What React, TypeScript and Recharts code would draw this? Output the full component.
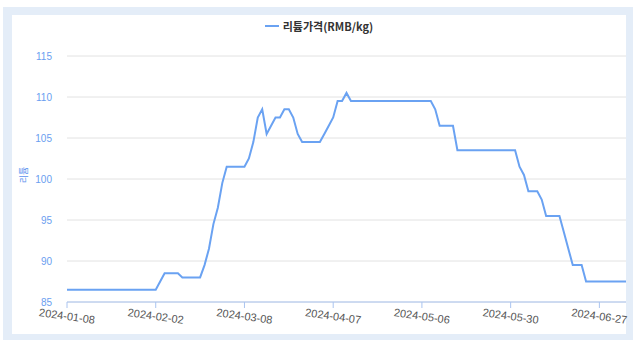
import { LineChart, Line, XAxis, YAxis, CartesianGrid, Legend } from 'recharts';

const SERIES_NAME = '리튬가격(RMB/kg)';
const Y_TITLE = '리튬';
const LINE_COLOR = '#6aa2f2';

// one value per trading day
const prices = [
  86.5, 86.5, 86.5, 86.5, 86.5, 86.5, 86.5, 86.5, 86.5, 86.5,
  86.5, 86.5, 86.5, 86.5, 86.5, 86.5, 86.5, 86.5, 86.5, 86.5,
  86.5, 87.5, 88.5, 88.5, 88.5, 88.5, 88, 88, 88, 88,
  88, 89.5, 91.5, 94.5, 96.5, 99.5, 101.5, 101.5, 101.5, 101.5,
  101.5, 102.5, 104.5, 107.5, 108.5, 105.5, 106.5, 107.5, 107.5, 108.5,
  108.5, 107.5, 105.5, 104.5, 104.5, 104.5, 104.5, 104.5, 105.5, 106.5,
  107.5, 109.5, 109.5, 110.5, 109.5, 109.5, 109.5, 109.5, 109.5, 109.5,
  109.5, 109.5, 109.5, 109.5, 109.5, 109.5, 109.5, 109.5, 109.5, 109.5,
  109.5, 109.5, 109.5, 108.5, 106.5, 106.5, 106.5, 106.5, 103.5, 103.5,
  103.5, 103.5, 103.5, 103.5, 103.5, 103.5, 103.5, 103.5, 103.5, 103.5,
  103.5, 103.5, 101.5, 100.5, 98.5, 98.5, 98.5, 97.5, 95.5, 95.5,
  95.5, 95.5, 93.5, 91.5, 89.5, 89.5, 89.5, 87.5, 87.5, 87.5,
  87.5, 87.5, 87.5, 87.5, 87.5, 87.5, 87.5,
];

const tickDays = [0, 20, 40, 60, 80, 100, 120];
const tickLabels = ['2024-01-08', '2024-02-02', '2024-03-08', '2024-04-07', '2024-05-06', '2024-05-30', '2024-06-27'];
const yTicks = [85, 90, 95, 100, 105, 110, 115];

const data = prices.map((price, day) => ({ day, price }));

function DateTick({ x, y, payload }: any) {
  const label = tickLabels[tickDays.indexOf(payload.value)];
  return (
    <text
      x={x}
      y={y}
      dy={8}
      textAnchor="middle"
      transform={`rotate(8, ${x}, ${y + 4})`}
      fontSize={11}
      fill="#555"
      fontFamily="'Liberation Sans', Arial, sans-serif"
    >
      {label}
    </text>
  );
}

function AxisTitle({ viewBox }: any) {
  const cx = viewBox.x + 23;
  const cy = viewBox.y + viewBox.height / 2 - 4;
  return (
    <text
      x={cx}
      y={cy}
      transform={`rotate(-90, ${cx}, ${cy})`}
      textAnchor="middle"
      dominantBaseline="central"
      fontSize={9}
      fill="#5b92ee"
      fontFamily="'Noto Sans CJK KR', sans-serif"
    >
      {Y_TITLE}
    </text>
  );
}

function LegendBox() {
  return (
    <div
      style={{
        display: 'flex',
        justifyContent: 'center',
        alignItems: 'center',
        height: 16,
        fontFamily: "'Noto Sans CJK KR', sans-serif",
        fontSize: 11,
        fontWeight: 600,
        color: '#333',
      }}
    >
      <span style={{ display: 'inline-block', width: 14, height: 2, background: LINE_COLOR, marginRight: 4 }} />
      <span>{SERIES_NAME}</span>
    </div>
  );
}

export default function App() {
  return (
    <div style={{ position: 'absolute', left: 0, top: 0, width: 638, height: 346, background: '#fff' }}>
      <div style={{ position: 'absolute', left: 3, top: 7, width: 630, height: 333, background: '#e4edf8' }} />
      <div style={{ position: 'absolute', left: 12, top: 15, width: 614, height: 319, background: '#fff' }} />
      <div style={{ position: 'absolute', left: 0, top: 0 }}>
        <LineChart width={638} height={346} data={data} margin={{ top: 56, right: 12, left: 0, bottom: 0 }}>
          <CartesianGrid vertical={false} stroke="#e2e2e2" />
          <XAxis
            dataKey="day"
            type="number"
            domain={[0, prices.length - 1]}
            ticks={tickDays}
            interval={0}
            height={44}
            stroke="#aac4f0"
            tickSize={6}
            tickMargin={4}
            tick={<DateTick />}
          />
          <YAxis
            domain={[85, 115]}
            ticks={yTicks}
            width={67}
            axisLine={false}
            tickLine={false}
            tickSize={0}
            tickMargin={15}
            tick={{ fill: '#6a9ef0', fontSize: 10, fontFamily: "'Liberation Sans', Arial, sans-serif" }}
            label={<AxisTitle />}
          />
          <Legend
            verticalAlign="middle"
            align="center"
            wrapperStyle={{ top: 18, left: 0, width: 638 }}
            content={<LegendBox />}
          />
          <Line
            dataKey="price"
            name={SERIES_NAME}
            type="linear"
            stroke={LINE_COLOR}
            strokeWidth={2}
            dot={false}
            isAnimationActive={false}
          />
        </LineChart>
      </div>
    </div>
  );
}
